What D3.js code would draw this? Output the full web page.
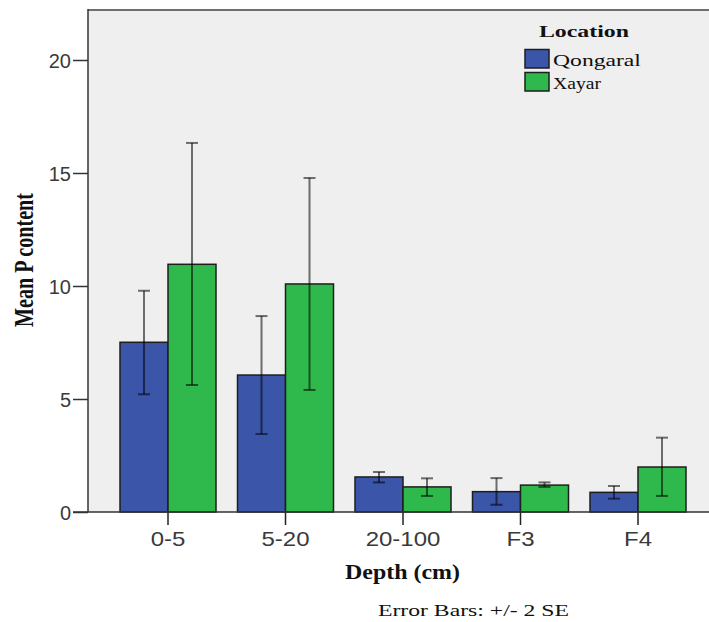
<!DOCTYPE html>
<html>
<head>
<meta charset="utf-8">
<script src="https://cdn.jsdelivr.net/npm/d3@7/dist/d3.min.js"></script>
<style>
  html, body { margin: 0; padding: 0; background: #ffffff; }
  svg { display: block; }
</style>
</head>
<body>
<svg id="chart" width="709" height="622"></svg>
<script>
// Depth categories and locations
const categories = ["0-5", "5-20", "20-100", "F3", "F4"];
const locations = ["Qongaral", "Xayar"];

// Mean P content per depth
const qongaralMean = [7.51, 6.06, 1.55, 0.90, 0.87];
const xayarMean    = [10.96, 10.09, 1.11, 1.19, 1.99];

// Error bar limits (+/- 2 SE)
const qongaralLow  = [5.21, 3.45, 1.31, 0.32, 0.59];
const qongaralHigh = [9.79, 8.67, 1.77, 1.50, 1.15];
const xayarLow     = [5.62, 5.40, 0.71, 1.11, 0.71];
const xayarHigh    = [16.33, 14.78, 1.49, 1.31, 3.29];

const yTicks = [0, 5, 10, 15, 20];

const colors = { "Qongaral": "#3b55a8", "Xayar": "#2fb84b" };

const rows = [];
categories.forEach((c, i) => {
  rows.push({ cat: c, loc: "Qongaral", mean: qongaralMean[i], lo: qongaralLow[i], hi: qongaralHigh[i] });
  rows.push({ cat: c, loc: "Xayar", mean: xayarMean[i], lo: xayarLow[i], hi: xayarHigh[i] });
});

const svg = d3.select("#chart");
const W = 709;
const plotLeft = 88, plotTop = 10, plotBottom = 512;
const serif = "'Liberation Serif', 'Times New Roman', serif";
const sans = "'Liberation Sans', Arial, sans-serif";

const x = d3.scaleBand().domain(categories).range([109.25, 696.75]).padding(0);
const xSub = d3.scaleBand().domain(locations)
  .range([x.bandwidth() / 2 - 48, x.bandwidth() / 2 + 48]).padding(0);
const y = d3.scaleLinear().domain([0, 20]).range([plotBottom, 60]);

// Places a text at (px, py) and stretches it horizontally to the given width
function wideText(parent, px, py, width, str, size, weight) {
  const t = parent.append("text")
    .attr("font-family", serif)
    .attr("font-size", size)
    .attr("font-weight", weight || "normal")
    .attr("fill", "#111")
    .text(str);
  const natural = t.node().getComputedTextLength();
  t.attr("transform", `translate(${px},${py}) scale(${width / natural},1)`);
  return t;
}

// plot background
svg.append("rect")
  .attr("x", plotLeft).attr("y", plotTop)
  .attr("width", W - plotLeft).attr("height", plotBottom - plotTop)
  .attr("fill", "#efefef");

// top frame line
svg.append("line")
  .attr("x1", plotLeft).attr("x2", W).attr("y1", plotTop).attr("y2", plotTop)
  .attr("stroke", "#6e6e6e").attr("stroke-width", 2);

// bars
svg.append("g").selectAll("rect").data(rows).join("rect")
  .attr("x", d => x(d.cat) + xSub(d.loc))
  .attr("y", d => y(d.mean))
  .attr("width", xSub.bandwidth())
  .attr("height", d => y(0) - y(d.mean))
  .attr("fill", d => colors[d.loc])
  .attr("stroke", "#1e1e1e")
  .attr("stroke-width", 1.5);

// error bars
const eb = svg.append("g")
  .attr("stroke", "#000").attr("stroke-opacity", 0.55).attr("stroke-width", 2);
rows.forEach(d => {
  const cx = x(d.cat) + xSub(d.loc) + xSub.bandwidth() / 2;
  eb.append("line").attr("x1", cx).attr("x2", cx).attr("y1", y(d.lo)).attr("y2", y(d.hi));
  eb.append("line").attr("x1", cx - 6).attr("x2", cx + 6).attr("y1", y(d.lo)).attr("y2", y(d.lo));
  eb.append("line").attr("x1", cx - 6).attr("x2", cx + 6).attr("y1", y(d.hi)).attr("y2", y(d.hi));
});

// y axis
const yAxis = svg.append("g")
  .attr("transform", `translate(${plotLeft},0)`)
  .call(d3.axisLeft(y).tickValues(yTicks).tickSize(15).tickPadding(2).tickFormat(d3.format("d")));
yAxis.select(".domain").remove();
yAxis.selectAll(".tick line").attr("stroke", "#333").attr("stroke-width", 1.5);
yAxis.selectAll(".tick text")
  .attr("fill", "#3a3a3a")
  .attr("font-family", sans)
  .attr("font-size", 20)
  .attr("dy", "0.36em");

// left axis line
svg.append("line")
  .attr("x1", plotLeft).attr("x2", plotLeft).attr("y1", plotTop - 1).attr("y2", plotBottom)
  .attr("stroke", "#333").attr("stroke-width", 1.5);

// x axis
const xAxis = svg.append("g")
  .attr("transform", `translate(0,${plotBottom})`)
  .call(d3.axisBottom(x).tickSize(13).tickPadding(4));
xAxis.select(".domain").remove();
xAxis.selectAll(".tick line").attr("stroke", "#222").attr("stroke-width", 1.5);
xAxis.selectAll(".tick text")
  .attr("fill", "#3a3a3a")
  .attr("font-family", sans)
  .attr("font-size", 20)
  .attr("y", 34).attr("dy", 0)
  .attr("transform", "scale(1.2,1)");

svg.append("line")
  .attr("x1", 73).attr("x2", W).attr("y1", plotBottom).attr("y2", plotBottom)
  .attr("stroke", "#333").attr("stroke-width", 1.5);

// axis titles
svg.append("text")
  .attr("transform", "translate(33,260) rotate(-90) scale(1,1.4)")
  .attr("text-anchor", "middle")
  .attr("font-family", serif)
  .attr("font-weight", "bold").attr("font-size", 20)
  .attr("textLength", 134).attr("lengthAdjust", "spacingAndGlyphs")
  .attr("fill", "#111")
  .text("Mean P content");

wideText(svg, 345, 579, 115, "Depth (cm)", 20, "bold");
wideText(svg, 378, 616, 191, "Error Bars: +/- 2 SE", 16);

// legend
const legend = svg.append("g");
wideText(legend, 539, 37, 90, "Location", 17.5, "bold");

const legendWidths = { "Qongaral": 88, "Xayar": 48 };
locations.forEach((loc, i) => {
  const top = 49.5 + i * 23;
  legend.append("rect")
    .attr("x", 525).attr("y", top).attr("width", 24).attr("height", 18.5)
    .attr("fill", colors[loc]).attr("stroke", "#1e1e1e").attr("stroke-width", 1.5);
  wideText(legend, 553, top + 16, legendWidths[loc], loc, 17);
});
</script>
</body>
</html>
